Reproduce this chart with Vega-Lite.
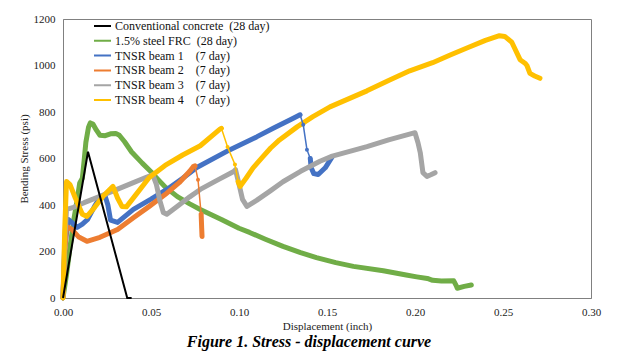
{
"$schema":"https://vega.github.io/schema/vega-lite/v6.json",
"autosize":"none",
"width":528,"height":279,
"padding":{"left":63,"top":19,"right":35,"bottom":58},
"datasets":{
"curves":[
{"series":"Conventional concrete","part":1,"x":0,"y":0},{"series":"Conventional concrete","part":1,"x":0.0142,"y":629},{"series":"Conventional concrete","part":1,"x":0.0365,"y":0},{"series":"Conventional concrete","part":1,"x":0.039,"y":0},
{"series":"1.5% steel FRC","part":1,"x":0,"y":0},{"series":"1.5% steel FRC","part":1,"x":0.002,"y":100},{"series":"1.5% steel FRC","part":1,"x":0.004,"y":220},{"series":"1.5% steel FRC","part":1,"x":0.006,"y":330},{"series":"1.5% steel FRC","part":1,"x":0.008,"y":420},{"series":"1.5% steel FRC","part":1,"x":0.0095,"y":495},{"series":"1.5% steel FRC","part":1,"x":0.011,"y":515},{"series":"1.5% steel FRC","part":1,"x":0.012,"y":590},{"series":"1.5% steel FRC","part":1,"x":0.013,"y":670},{"series":"1.5% steel FRC","part":1,"x":0.0145,"y":735},{"series":"1.5% steel FRC","part":1,"x":0.0155,"y":753},{"series":"1.5% steel FRC","part":1,"x":0.017,"y":748},{"series":"1.5% steel FRC","part":1,"x":0.019,"y":722},{"series":"1.5% steel FRC","part":1,"x":0.021,"y":700},{"series":"1.5% steel FRC","part":1,"x":0.024,"y":698},{"series":"1.5% steel FRC","part":1,"x":0.027,"y":706},{"series":"1.5% steel FRC","part":1,"x":0.03,"y":708},{"series":"1.5% steel FRC","part":1,"x":0.032,"y":700},{"series":"1.5% steel FRC","part":1,"x":0.035,"y":672},{"series":"1.5% steel FRC","part":1,"x":0.039,"y":628},{"series":"1.5% steel FRC","part":1,"x":0.045,"y":580},{"series":"1.5% steel FRC","part":1,"x":0.05,"y":543},{"series":"1.5% steel FRC","part":1,"x":0.053,"y":518},{"series":"1.5% steel FRC","part":1,"x":0.058,"y":478},{"series":"1.5% steel FRC","part":1,"x":0.065,"y":436},{"series":"1.5% steel FRC","part":1,"x":0.072,"y":405},{"series":"1.5% steel FRC","part":1,"x":0.078,"y":381},{"series":"1.5% steel FRC","part":1,"x":0.09,"y":338},{"series":"1.5% steel FRC","part":1,"x":0.1,"y":300},{"series":"1.5% steel FRC","part":1,"x":0.106,"y":282},{"series":"1.5% steel FRC","part":1,"x":0.115,"y":253},{"series":"1.5% steel FRC","part":1,"x":0.125,"y":222},{"series":"1.5% steel FRC","part":1,"x":0.135,"y":195},{"series":"1.5% steel FRC","part":1,"x":0.144,"y":174},{"series":"1.5% steel FRC","part":1,"x":0.155,"y":152},{"series":"1.5% steel FRC","part":1,"x":0.165,"y":136},{"series":"1.5% steel FRC","part":1,"x":0.182,"y":117},{"series":"1.5% steel FRC","part":1,"x":0.195,"y":99},{"series":"1.5% steel FRC","part":1,"x":0.201,"y":91},{"series":"1.5% steel FRC","part":1,"x":0.207,"y":84},{"series":"1.5% steel FRC","part":1,"x":0.21,"y":76},{"series":"1.5% steel FRC","part":1,"x":0.215,"y":73},{"series":"1.5% steel FRC","part":1,"x":0.222,"y":74},{"series":"1.5% steel FRC","part":1,"x":0.2235,"y":52},{"series":"1.5% steel FRC","part":1,"x":0.224,"y":42},{"series":"1.5% steel FRC","part":1,"x":0.228,"y":50},{"series":"1.5% steel FRC","part":1,"x":0.232,"y":56},
{"series":"TNSR beam 1","part":1,"x":0,"y":0},{"series":"TNSR beam 1","part":1,"x":0.001,"y":220},{"series":"TNSR beam 1","part":1,"x":0.003,"y":338},{"series":"TNSR beam 1","part":1,"x":0.005,"y":325},{"series":"TNSR beam 1","part":1,"x":0.008,"y":304},{"series":"TNSR beam 1","part":1,"x":0.011,"y":318},{"series":"TNSR beam 1","part":1,"x":0.014,"y":338},{"series":"TNSR beam 1","part":1,"x":0.018,"y":395},{"series":"TNSR beam 1","part":1,"x":0.021,"y":432},{"series":"TNSR beam 1","part":1,"x":0.024,"y":437},{"series":"TNSR beam 1","part":1,"x":0.0255,"y":400},{"series":"TNSR beam 1","part":1,"x":0.027,"y":335},{"series":"TNSR beam 1","part":1,"x":0.031,"y":325},{"series":"TNSR beam 1","part":1,"x":0.04,"y":381},{"series":"TNSR beam 1","part":1,"x":0.05,"y":425},{"series":"TNSR beam 1","part":1,"x":0.059,"y":467},{"series":"TNSR beam 1","part":1,"x":0.068,"y":515},{"series":"TNSR beam 1","part":1,"x":0.076,"y":561},{"series":"TNSR beam 1","part":1,"x":0.0949,"y":638},{"series":"TNSR beam 1","part":1,"x":0.11,"y":693},{"series":"TNSR beam 1","part":1,"x":0.12,"y":732},{"series":"TNSR beam 1","part":1,"x":0.13,"y":770},{"series":"TNSR beam 1","part":1,"x":0.1347,"y":788},
{"series":"TNSR beam 1","part":2,"x":0.1405,"y":600},{"series":"TNSR beam 1","part":2,"x":0.141,"y":560},{"series":"TNSR beam 1","part":2,"x":0.1425,"y":535},{"series":"TNSR beam 1","part":2,"x":0.145,"y":531},{"series":"TNSR beam 1","part":2,"x":0.149,"y":560},{"series":"TNSR beam 1","part":2,"x":0.153,"y":608},
{"series":"TNSR beam 2","part":1,"x":0,"y":0},{"series":"TNSR beam 2","part":1,"x":0.001,"y":200},{"series":"TNSR beam 2","part":1,"x":0.002,"y":308},{"series":"TNSR beam 2","part":1,"x":0.005,"y":295},{"series":"TNSR beam 2","part":1,"x":0.009,"y":262},{"series":"TNSR beam 2","part":1,"x":0.0136,"y":244},{"series":"TNSR beam 2","part":1,"x":0.021,"y":261},{"series":"TNSR beam 2","part":1,"x":0.031,"y":295},{"series":"TNSR beam 2","part":1,"x":0.04,"y":345},{"series":"TNSR beam 2","part":1,"x":0.049,"y":394},{"series":"TNSR beam 2","part":1,"x":0.058,"y":445},{"series":"TNSR beam 2","part":1,"x":0.066,"y":496},{"series":"TNSR beam 2","part":1,"x":0.072,"y":545},{"series":"TNSR beam 2","part":1,"x":0.074,"y":565},{"series":"TNSR beam 2","part":1,"x":0.075,"y":568},
{"series":"TNSR beam 2","part":2,"x":0.0785,"y":360},{"series":"TNSR beam 2","part":2,"x":0.0788,"y":300},{"series":"TNSR beam 2","part":2,"x":0.079,"y":265},
{"series":"TNSR beam 3","part":1,"x":0,"y":0},{"series":"TNSR beam 3","part":1,"x":0.001,"y":250},{"series":"TNSR beam 3","part":1,"x":0.002,"y":381},{"series":"TNSR beam 3","part":1,"x":0.006,"y":390},{"series":"TNSR beam 3","part":1,"x":0.012,"y":410},{"series":"TNSR beam 3","part":1,"x":0.021,"y":437},{"series":"TNSR beam 3","part":1,"x":0.03,"y":465},{"series":"TNSR beam 3","part":1,"x":0.04,"y":496},{"series":"TNSR beam 3","part":1,"x":0.047,"y":518},{"series":"TNSR beam 3","part":1,"x":0.051,"y":530},{"series":"TNSR beam 3","part":1,"x":0.053,"y":490},{"series":"TNSR beam 3","part":1,"x":0.055,"y":420},{"series":"TNSR beam 3","part":1,"x":0.057,"y":368},{"series":"TNSR beam 3","part":1,"x":0.059,"y":360},{"series":"TNSR beam 3","part":1,"x":0.065,"y":395},{"series":"TNSR beam 3","part":1,"x":0.072,"y":435},{"series":"TNSR beam 3","part":1,"x":0.078,"y":467},{"series":"TNSR beam 3","part":1,"x":0.088,"y":508},{"series":"TNSR beam 3","part":1,"x":0.097,"y":544},{"series":"TNSR beam 3","part":1,"x":0.098,"y":552},{"series":"TNSR beam 3","part":1,"x":0.1,"y":490},{"series":"TNSR beam 3","part":1,"x":0.102,"y":424},{"series":"TNSR beam 3","part":1,"x":0.1045,"y":394},{"series":"TNSR beam 3","part":1,"x":0.11,"y":420},{"series":"TNSR beam 3","part":1,"x":0.118,"y":462},{"series":"TNSR beam 3","part":1,"x":0.125,"y":500},{"series":"TNSR beam 3","part":1,"x":0.135,"y":545},{"series":"TNSR beam 3","part":1,"x":0.146,"y":588},{"series":"TNSR beam 3","part":1,"x":0.153,"y":610},{"series":"TNSR beam 3","part":1,"x":0.1727,"y":651},{"series":"TNSR beam 3","part":1,"x":0.185,"y":680},{"series":"TNSR beam 3","part":1,"x":0.2,"y":711},{"series":"TNSR beam 3","part":1,"x":0.2017,"y":668},{"series":"TNSR beam 3","part":1,"x":0.203,"y":625},{"series":"TNSR beam 3","part":1,"x":0.2045,"y":539},{"series":"TNSR beam 3","part":1,"x":0.2068,"y":523},{"series":"TNSR beam 3","part":1,"x":0.209,"y":530},{"series":"TNSR beam 3","part":1,"x":0.2114,"y":539},
{"series":"TNSR beam 4","part":1,"x":0,"y":0},{"series":"TNSR beam 4","part":1,"x":0.001,"y":300},{"series":"TNSR beam 4","part":1,"x":0.002,"y":501},{"series":"TNSR beam 4","part":1,"x":0.004,"y":488},{"series":"TNSR beam 4","part":1,"x":0.007,"y":430},{"series":"TNSR beam 4","part":1,"x":0.011,"y":360},{"series":"TNSR beam 4","part":1,"x":0.0136,"y":351},{"series":"TNSR beam 4","part":1,"x":0.018,"y":390},{"series":"TNSR beam 4","part":1,"x":0.023,"y":440},{"series":"TNSR beam 4","part":1,"x":0.0284,"y":480},{"series":"TNSR beam 4","part":1,"x":0.031,"y":430},{"series":"TNSR beam 4","part":1,"x":0.0335,"y":394},{"series":"TNSR beam 4","part":1,"x":0.036,"y":392},{"series":"TNSR beam 4","part":1,"x":0.042,"y":450},{"series":"TNSR beam 4","part":1,"x":0.049,"y":518},{"series":"TNSR beam 4","part":1,"x":0.058,"y":570},{"series":"TNSR beam 4","part":1,"x":0.068,"y":615},{"series":"TNSR beam 4","part":1,"x":0.078,"y":655},{"series":"TNSR beam 4","part":1,"x":0.089,"y":725},{"series":"TNSR beam 4","part":1,"x":0.09,"y":730},
{"series":"TNSR beam 4","part":2,"x":0.0995,"y":500},{"series":"TNSR beam 4","part":2,"x":0.1006,"y":480},{"series":"TNSR beam 4","part":2,"x":0.104,"y":515},{"series":"TNSR beam 4","part":2,"x":0.108,"y":560},{"series":"TNSR beam 4","part":2,"x":0.1136,"y":608},{"series":"TNSR beam 4","part":2,"x":0.118,"y":645},{"series":"TNSR beam 4","part":2,"x":0.123,"y":680},{"series":"TNSR beam 4","part":2,"x":0.133,"y":736},{"series":"TNSR beam 4","part":2,"x":0.142,"y":780},{"series":"TNSR beam 4","part":2,"x":0.1517,"y":822},{"series":"TNSR beam 4","part":2,"x":0.1727,"y":891},{"series":"TNSR beam 4","part":2,"x":0.185,"y":935},{"series":"TNSR beam 4","part":2,"x":0.197,"y":977},{"series":"TNSR beam 4","part":2,"x":0.21,"y":1012},{"series":"TNSR beam 4","part":2,"x":0.22,"y":1045},{"series":"TNSR beam 4","part":2,"x":0.2295,"y":1075},{"series":"TNSR beam 4","part":2,"x":0.24,"y":1108},{"series":"TNSR beam 4","part":2,"x":0.248,"y":1128},{"series":"TNSR beam 4","part":2,"x":0.251,"y":1125},{"series":"TNSR beam 4","part":2,"x":0.255,"y":1100},{"series":"TNSR beam 4","part":2,"x":0.2597,"y":1025},{"series":"TNSR beam 4","part":2,"x":0.2625,"y":1010},{"series":"TNSR beam 4","part":2,"x":0.2636,"y":1000},{"series":"TNSR beam 4","part":2,"x":0.2653,"y":966},{"series":"TNSR beam 4","part":2,"x":0.268,"y":955},{"series":"TNSR beam 4","part":2,"x":0.271,"y":945}
],
"drops":[
{"series":"TNSR beam 1","x":0.1347,"y":788},{"series":"TNSR beam 1","x":0.1365,"y":745},{"series":"TNSR beam 1","x":0.1386,"y":638},{"series":"TNSR beam 1","x":0.1405,"y":600},
{"series":"TNSR beam 2","x":0.075,"y":568},{"series":"TNSR beam 2","x":0.0767,"y":509},{"series":"TNSR beam 2","x":0.0785,"y":360},
{"series":"TNSR beam 4","x":0.09,"y":730},{"series":"TNSR beam 4","x":0.0935,"y":650},{"series":"TNSR beam 4","x":0.0977,"y":574},{"series":"TNSR beam 4","x":0.0995,"y":500}
]
},
"title":{"text":"Figure 1. Stress - displacement curve","orient":"bottom","anchor":"middle","font":"Liberation Serif","fontSize":16,"fontStyle":"italic","fontWeight":"bold","color":"#000000","offset":3,"dx":-18},
"config":{
"font":"Liberation Serif",
"view":{"stroke":"#808080","strokeWidth":1},
"axis":{"ticks":false,"grid":false,"domainColor":"#808080","labelPadding":8},
"legend":{"orient":"none","legendX":30,"legendY":1,"padding":0,"symbolType":"stroke","symbolSize":289,"clipHeight":12,"symbolStrokeWidth":2,"labelFont":"Liberation Serif","labelFontSize":12,"labelColor":"#111111","rowPadding":2.8,"labelOffset":3}
},
"encoding":{
"x":{"field":"x","type":"quantitative","scale":{"domain":[0,0.3],"nice":false},"axis":{"values":[0,0.05,0.1,0.15,0.2,0.25,0.3],"format":".2f","labelFlush":false,"labelFont":"Liberation Serif","labelFontSize":11,"labelColor":"#222222","titleFont":"Liberation Serif","titleFontSize":11,"titleFontWeight":"normal","titleColor":"#222222","title":"Displacement (inch)","titlePadding":3}},
"y":{"field":"y","type":"quantitative","scale":{"domain":[0,1200],"nice":false},"axis":{"values":[0,200,400,600,800,1000,1200],"format":"d","labelFlush":false,"labelFont":"Liberation Serif","labelFontSize":11,"labelColor":"#222222","titleFont":"Liberation Serif","titleFontSize":11,"titleFontWeight":"normal","titleColor":"#222222","title":"Bending Stress (psi)","titlePadding":4}},
"color":{"field":"series","type":"nominal","scale":{"domain":["Conventional concrete","1.5% steel FRC","TNSR beam 1","TNSR beam 2","TNSR beam 3","TNSR beam 4"],"range":["#000000","#70AD47","#4472C4","#ED7D31","#A5A5A5","#FFC000"]},
"legend":{"title":null,"labelExpr":"datum.label + (indexof(datum.label,'TNSR')>=0 ? '\u00a0\u00a0\u00a0\u00a0(7 day)' : '\u00a0\u00a0(28 day)')"}}
},
"layer":[
{"data":{"name":"curves"},"transform":[{"filter":"datum.series !== 'Conventional concrete'"}],"mark":{"type":"line","strokeWidth":5,"strokeCap":"round","strokeJoin":"round"},"encoding":{"detail":{"field":"part","type":"nominal"}}},
{"data":{"name":"drops"},"mark":{"type":"line","strokeWidth":1.5},"encoding":{}},
{"data":{"name":"drops"},"mark":{"type":"circle","size":16,"opacity":1},"encoding":{}},
{"data":{"name":"curves"},"transform":[{"filter":"datum.series === 'Conventional concrete'"}],"mark":{"type":"line","strokeWidth":2},"encoding":{}}
]
}
